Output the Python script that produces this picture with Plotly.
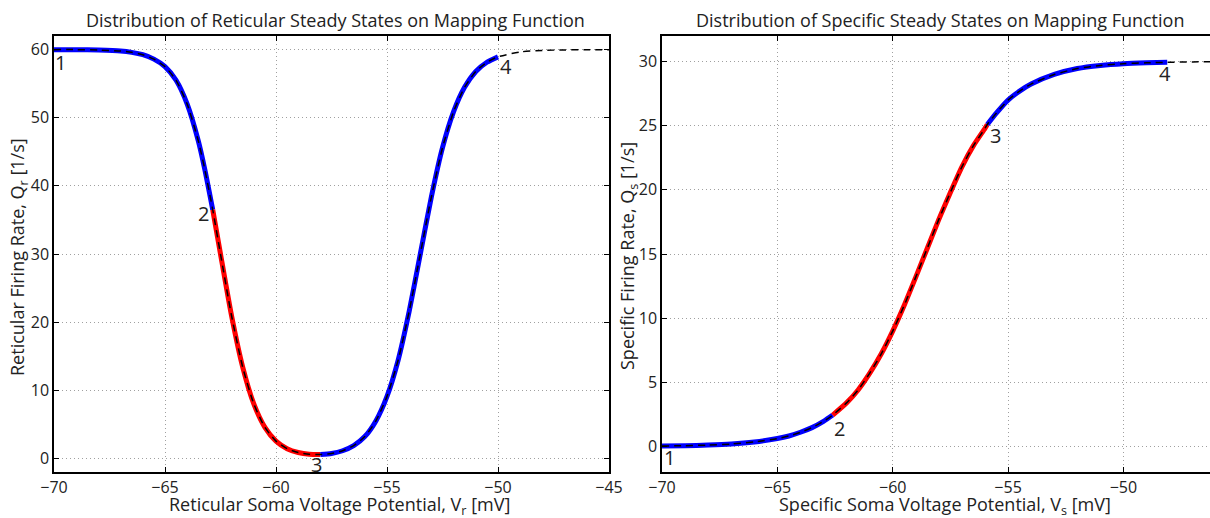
import plotly.graph_objects as go

# ---------------- data ----------------
ret_v = [-70, -69, -68, -67, -66.5, -66, -65.5, -65, -64.5, -64, -63.5, -63.2, -62.85,
         -62.5, -62, -61.5, -61, -60.5, -60, -59.5, -59, -58.5, -58,
         -57.5, -57, -56.5, -56, -55.5, -55, -54.5, -54, -53.5, -53, -52.5, -52,
         -51.5, -51, -50.5, -50, -49, -48, -47, -46, -45]
ret_q = [60.0, 60.0, 59.94, 59.8, 59.6, 59.25, 58.6, 57.5, 55.5, 52.0, 46.6, 42.3, 36.5,
         30.0, 20.9, 13.4, 8.0, 4.55, 2.53, 1.42, 0.86, 0.6, 0.56,
         0.72, 1.12, 1.87, 3.2, 5.5, 9.1, 14.4, 21.6, 30.0, 38.4, 45.6, 50.9,
         54.5, 56.8, 58.15, 58.94, 59.66, 59.88, 59.96, 59.99, 60.0]

spec_v = [-70, -69, -68, -67, -66, -65, -64.5, -64, -63.5, -63, -62.6,
          -62, -61.5, -61, -60.5, -60, -59.5, -59, -58.5, -58, -57.5, -57, -56.5, -56, -55.9,
          -55.5, -55, -54.5, -54, -53, -52, -51, -50, -49, -48.1, -47, -46, -45.5]
spec_q = [0.03, 0.055, 0.10, 0.18, 0.34, 0.61, 0.81, 1.10, 1.46, 1.95, 2.44,
          3.39, 4.40, 5.69, 7.20, 8.99, 11.0, 13.2, 15.45, 17.7, 19.8, 21.8, 23.45, 24.8, 25.1,
          26.0, 27.0, 27.7, 28.25, 29.0, 29.46, 29.70, 29.84, 29.91, 29.95, 29.98, 29.99, 30.0]

ret_state_v = [-70, -62.85, -58, -50]
spec_state_v = [-70, -62.6, -55.9, -48.1]
state_labels = ["1", "2", "3", "4"]

ret_xticks = [-70, -65, -60, -55, -50, -45]
ret_yticks = [0, 10, 20, 30, 40, 50, 60]
spec_xticks = [-70, -65, -60, -55, -50]
spec_yticks = [0, 5, 10, 15, 20, 25, 30]

# ---------------- styling ----------------
W, H = 1210, 518
FONT = "Open Sans"
seg_colors = ["#0000ff", "#ff0000", "#0000ff"]
ret_label_shift = [(6, -13), (-9, -4), (-4, -10), (8, -10)]
spec_label_shift = [(7, -12), (7, -13), (8, -11), (-2, -11)]

fig = go.Figure()


def add_curve(v, q, states, xa, ya):
    for i in range(3):
        lo, hi = states[i], states[i + 1]
        sv = [x for x in v if lo <= x <= hi]
        sq = [q[j] for j, x in enumerate(v) if lo <= x <= hi]
        fig.add_trace(go.Scatter(x=sv, y=sq, mode="lines", xaxis=xa, yaxis=ya,
                                 line=dict(color=seg_colors[i], width=5, shape="spline", smoothing=0.6),
                                 showlegend=False, hoverinfo="skip"))
    fig.add_trace(go.Scatter(x=v, y=q, mode="lines", xaxis=xa, yaxis=ya,
                             line=dict(color="black", width=1.5, dash="7px,5px", shape="spline", smoothing=0.6),
                             showlegend=False, hoverinfo="skip"))


add_curve(ret_v, ret_q, ret_state_v, "x", "y")
add_curve(spec_v, spec_q, spec_state_v, "x2", "y2")

annotations = []
for lbl, sv, sh in zip(state_labels, ret_state_v, ret_label_shift):
    annotations.append(dict(x=sv, y=ret_q[ret_v.index(sv)], xref="x", yref="y", text=lbl,
                            showarrow=False, xshift=sh[0], yshift=sh[1],
                            xanchor="center", yanchor="middle",
                            font=dict(family=FONT, size=20, color="#222")))
for lbl, sv, sh in zip(state_labels, spec_state_v, spec_label_shift):
    annotations.append(dict(x=sv, y=spec_q[spec_v.index(sv)], xref="x2", yref="y2", text=lbl,
                            showarrow=False, xshift=sh[0], yshift=sh[1],
                            xanchor="center", yanchor="middle",
                            font=dict(family=FONT, size=20, color="#222")))


def px_x(p):
    return p / W


def px_y(p):
    return 1 - p / H


txt = dict(family=FONT, color="#222")
common_ann = dict(xref="paper", yref="paper", showarrow=False, xanchor="center", yanchor="middle")
annotations += [
    dict(x=px_x(335), y=px_y(20), text="Distribution of Reticular Steady States on Mapping Function",
         font=dict(size=18, **txt), **common_ann),
    dict(x=px_x(940), y=px_y(20), text="Distribution of Specific Steady States on Mapping Function",
         font=dict(size=18, **txt), **common_ann),
    dict(x=px_x(339), y=px_y(505), text="Reticular Soma Voltage Potential, V<sub>r</sub> [mV]",
         font=dict(size=18, **txt), **common_ann),
    dict(x=px_x(945), y=px_y(505), text="Specific Soma Voltage Potential, V<sub>s</sub> [mV]",
         font=dict(size=18, **txt), **common_ann),
    dict(x=px_x(18), y=px_y(257), textangle=-90, text="Reticular Firing Rate, Q<sub>r</sub> [1/s]",
         font=dict(size=18, **txt), **common_ann),
    dict(x=px_x(628), y=px_y(256), textangle=-90, text="Specific Firing Rate, Q<sub>s</sub> [1/s]",
         font=dict(size=18, **txt), **common_ann),
]

axis_common = dict(showgrid=True, gridcolor="#a0a0a0", griddash="1px,3px", gridwidth=1,
                   zeroline=False, showline=True, linecolor="black", linewidth=1.5,
                   ticks="inside", ticklen=5, tickcolor="black", tickwidth=1,
                   tickfont=dict(family=FONT, size=16, color="#222"), automargin=False)

ydom = [(H - 472) / H, (H - 36) / H]
fig.update_layout(
    width=W, height=H, margin=dict(l=0, r=0, t=0, b=0),
    paper_bgcolor="white", plot_bgcolor="white",
    xaxis=dict(domain=[54 / W, 609 / W], range=[-70, -45], tickvals=ret_xticks,
               anchor="y", mirror="ticks", **axis_common),
    yaxis=dict(domain=ydom, range=[-2, 62], tickvals=ret_yticks, anchor="x",
               mirror="ticks", **axis_common),
    xaxis2=dict(domain=[662 / W, 1.0], range=[-70, -70 + (W - 662) / 23.07], tickvals=spec_xticks,
                anchor="y2", mirror="ticks", **axis_common),
    yaxis2=dict(domain=ydom, range=[-2, 32], tickvals=spec_yticks, anchor="x2",
                mirror=False, **axis_common),
    annotations=annotations,
)

fig.write_html("out.html", config={"displayModeBar": False})
